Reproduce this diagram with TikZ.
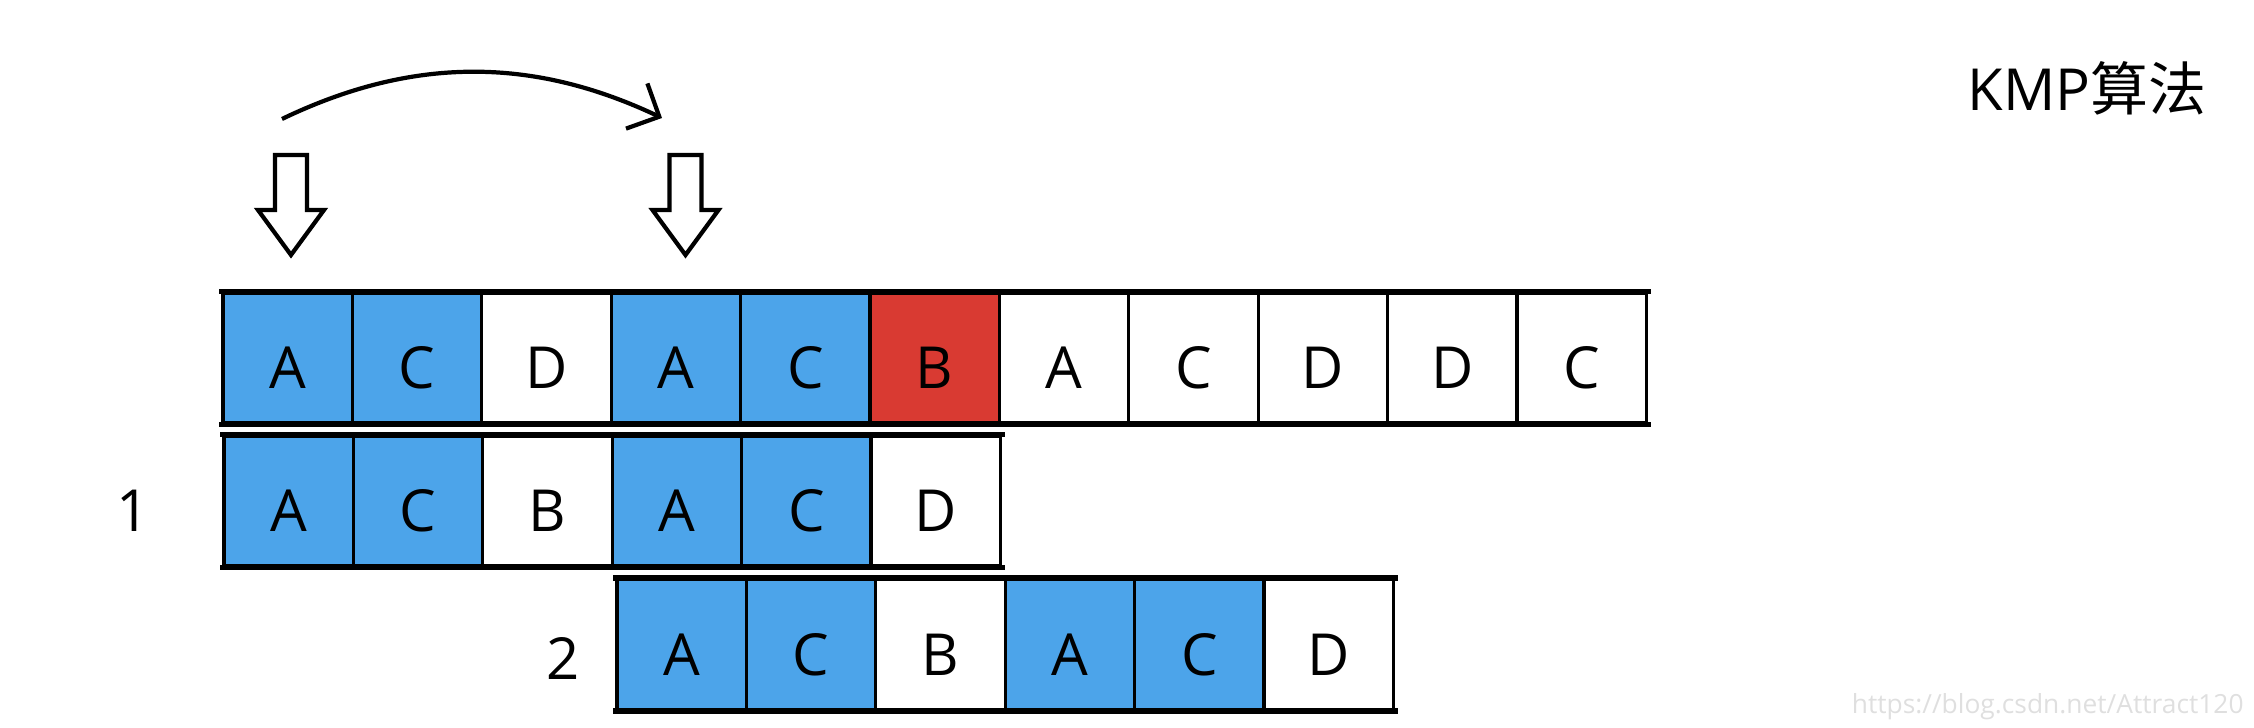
\documentclass[tikz,border=0pt]{standalone}
\usepackage{fontspec}
\setmainfont{Open Sans}
\newfontfamily\cjk{Noto Sans CJK SC}
\usetikzlibrary{arrows.meta}
\definecolor{kmpblue}{RGB}{76,164,234}
\definecolor{kmpred}{RGB}{217,58,50}
\newcommand{\cellfont}{\fontsize{16.5}{20}\selectfont}
\tikzset{
  cell/.style={draw, line width=0.9pt, minimum width=1.294cm, minimum height=1.3cm,
    inner sep=0pt, text height=0.62cm, text depth=0pt, font=\cellfont},
  hit/.style={cell, fill=kmpblue},
  miss/.style={cell, fill=kmpred},
  rowframe/.style={line width=1.6pt, line cap=rect},
  ptr/.style={line width=1.2pt, line join=miter},
  jump/.style={line width=1.2pt, -{Straight Barb[length=0.25cm, width=0.5cm]}}
}
\begin{document}
\begin{tikzpicture}
        \useasboundingbox (0,0) rectangle (22.54,7.28);
        % main string
        \foreach \ch/\st [count=\i] in {A/hit,C/hit,D/cell,A/hit,C/hit,B/miss,A/cell,C/cell,D/cell,D/cell,C/cell}
            \node[\st] (t\i) at ({2.23+(\i-0.5)*1.294},3.70) {\ch};
        \draw[rowframe] (t1.north west) -- (t11.north east) (t1.south west) -- (t11.south east);
        % pattern, first try
        \foreach \ch/\st [count=\i] in {A/hit,C/hit,B/cell,A/hit,C/hit,D/cell}
            \node[\st] (p\i) at ({2.24+(\i-0.5)*1.294},2.27) {\ch};
        \draw[rowframe] (p1.north west) -- (p6.north east) (p1.south west) -- (p6.south east);
        \node[font=\cellfont, text height=0.62cm, text depth=0pt] (one) at (1.33,2.27) {1};
        % pattern, after the shift
        \foreach \ch/\st [count=\i] in {A/hit,C/hit,B/cell,A/hit,C/hit,D/cell}
            \node[\st] (q\i) at ({6.17+(\i-0.5)*1.294},0.835) {\ch};
        \draw[rowframe] (q1.north west) -- (q6.north east) (q1.south west) -- (q6.south east);
        \node[font=\cellfont, text height=0.62cm, text depth=0pt] (two) at (5.63,0.79) {2};
        % pointers
        \foreach \px in {2.91,6.855}
            \draw[ptr] ({\px-0.16},5.73) -- ({\px+0.16},5.73) -- ({\px+0.16},5.18) -- ({\px+0.33},5.18)
                -- (\px,4.73) -- ({\px-0.33},5.18) -- ({\px-0.16},5.18) -- cycle;
        \coordinate (jfrom) at (2.82,6.09);
        \coordinate (jto) at (6.62,6.10);
        \draw[jump] (jfrom) .. controls (4.12,6.715) and (5.32,6.715) .. (jto);
        \node[font=\cellfont] (title) at (20.87,6.40) {KMP{\cjk 算法}};
        \node[anchor=east, text=gray!25, font=\fontsize{7.5}{9}\selectfont] (mark) at (22.56,0.21) {https://blog.csdn.net/Attract120};
    \end{tikzpicture}
\end{document}
